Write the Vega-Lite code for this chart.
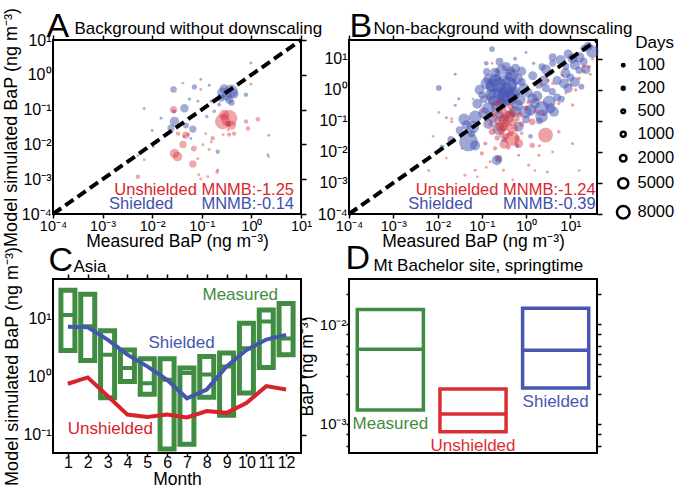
{
  "$schema": "https://vega.github.io/schema/vega-lite/v6.json",
  "padding": {"left": 1, "top": 6, "right": 0, "bottom": 0},
  "config": {
    "font": "Liberation Sans",
    "view": {"stroke": "black", "strokeWidth": 2},
    "axis": {"domain": false, "grid": false, "tickColor": "black", "tickWidth": 1.5, "tickSize": 5, "labelFont": "Liberation Sans", "labelFontSize": 15, "labelColor": "black", "titleFont": "Liberation Sans", "titleFontSize": 17.5, "titleFontWeight": "normal", "titleColor": "black", "labelPadding": 2, "labelFlush": false, "labelOverlap": false},
    "text": {"font": "Liberation Sans"}
  },
  "datasets": {
    "A": [
      {"series": "Shielded", "obs": 0.0269, "mod": 0.38, "days": 2000},
      {"series": "Shielded", "obs": 0.0708, "mod": 0.447, "days": 1200},
      {"series": "Shielded", "obs": 0.0447, "mod": 0.11, "days": 3500},
      {"series": "Shielded", "obs": 0.263, "mod": 0.302, "days": 6000},
      {"series": "Shielded", "obs": 0.389, "mod": 0.339, "days": 9000},
      {"series": "Shielded", "obs": 0.245, "mod": 0.214, "days": 2500},
      {"series": "Shielded", "obs": 0.0282, "mod": 0.0457, "days": 4500},
      {"series": "Shielded", "obs": 0.024, "mod": 0.0295, "days": 2500},
      {"series": "Shielded", "obs": 0.0661, "mod": 0.0275, "days": 2500},
      {"series": "Shielded", "obs": 0.977, "mod": 2.19, "days": 250},
      {"series": "Shielded", "obs": 0.776, "mod": 0.269, "days": 800},
      {"series": "Shielded", "obs": 0.0955, "mod": 0.741, "days": 200},
      {"series": "Shielded", "obs": 0.0832, "mod": 0.174, "days": 200},
      {"series": "Shielded", "obs": 0.0151, "mod": 0.0562, "days": 250},
      {"series": "Shielded", "obs": 0.209, "mod": 0.00617, "days": 800},
      {"series": "Shielded", "obs": 2.24, "mod": 0.0182, "days": 200},
      {"series": "Shielded", "obs": 0.0437, "mod": 0.017, "days": 250},
      {"series": "Shielded", "obs": 0.00692, "mod": 0.107, "days": 200},
      {"series": "Shielded", "obs": 0.0105, "mod": 0.00871, "days": 200},
      {"series": "Shielded", "obs": 0.00513, "mod": 0.00479, "days": 150},
      {"series": "Shielded", "obs": 0.0479, "mod": 0.0347, "days": 1500},
      {"series": "Shielded", "obs": 0.0275, "mod": 0.0891, "days": 800},
      {"series": "Shielded", "obs": 0.155, "mod": 0.174, "days": 400},
      {"series": "Shielded", "obs": 0.178, "mod": 0.0891, "days": 400},
      {"series": "Shielded", "obs": 0.339, "mod": 0.0398, "days": 1500},
      {"series": "Shielded", "obs": 2.14, "mod": 0.00501, "days": 150},
      {"series": "Shielded", "obs": 0.0603, "mod": 0.0148, "days": 200},
      {"series": "Shielded", "obs": 0.316, "mod": 0.251, "days": 5000},
      {"series": "Shielded", "obs": 0.355, "mod": 0.191, "days": 3000},
      {"series": "Shielded", "obs": 0.282, "mod": 0.398, "days": 4000},
      {"series": "Shielded", "obs": 0.398, "mod": 0.158, "days": 1800},
      {"series": "Shielded", "obs": 0.224, "mod": 0.141, "days": 600},
      {"series": "Shielded", "obs": 0.126, "mod": 0.0631, "days": 400},
      {"series": "Shielded", "obs": 0.02, "mod": 0.02, "days": 600},
      {"series": "Shielded", "obs": 0.01, "mod": 0.0251, "days": 200},
      {"series": "Shielded", "obs": 0.141, "mod": 0.501, "days": 200},
      {"series": "Shielded", "obs": 0.0562, "mod": 0.2, "days": 400},
      {"series": "Shielded", "obs": 0.447, "mod": 0.282, "days": 4000},
      {"series": "Unshielded", "obs": 0.0269, "mod": 0.1, "days": 2500},
      {"series": "Unshielded", "obs": 0.0479, "mod": 0.0186, "days": 2500},
      {"series": "Unshielded", "obs": 0.263, "mod": 0.0457, "days": 12000},
      {"series": "Unshielded", "obs": 0.355, "mod": 0.0562, "days": 14000},
      {"series": "Unshielded", "obs": 0.0282, "mod": 0.0055, "days": 4500},
      {"series": "Unshielded", "obs": 0.0324, "mod": 0.00447, "days": 4500},
      {"series": "Unshielded", "obs": 0.0661, "mod": 0.00275, "days": 2500},
      {"series": "Unshielded", "obs": 0.105, "mod": 0.00977, "days": 250},
      {"series": "Unshielded", "obs": 0.166, "mod": 0.0151, "days": 800},
      {"series": "Unshielded", "obs": 0.141, "mod": 0.00708, "days": 250},
      {"series": "Unshielded", "obs": 0.355, "mod": 0.0191, "days": 800},
      {"series": "Unshielded", "obs": 0.776, "mod": 0.0457, "days": 800},
      {"series": "Unshielded", "obs": 0.977, "mod": 0.537, "days": 250},
      {"series": "Unshielded", "obs": 0.0955, "mod": 0.38, "days": 250},
      {"series": "Unshielded", "obs": 0.209, "mod": 0.00182, "days": 250},
      {"series": "Unshielded", "obs": 0.0871, "mod": 0.00135, "days": 250},
      {"series": "Unshielded", "obs": 2.24, "mod": 0.00447, "days": 200},
      {"series": "Unshielded", "obs": 0.00513, "mod": 0.00117, "days": 800},
      {"series": "Unshielded", "obs": 0.0417, "mod": 0.01, "days": 2500},
      {"series": "Unshielded", "obs": 0.0955, "mod": 0.00102, "days": 250},
      {"series": "Unshielded", "obs": 0.132, "mod": 0.00117, "days": 250},
      {"series": "Unshielded", "obs": 0.204, "mod": 0.00162, "days": 500},
      {"series": "Unshielded", "obs": 0.0832, "mod": 0.00389, "days": 250},
      {"series": "Unshielded", "obs": 0.0692, "mod": 0.00759, "days": 1500},
      {"series": "Unshielded", "obs": 0.0331, "mod": 0.0204, "days": 800},
      {"series": "Unshielded", "obs": 0.0525, "mod": 0.0191, "days": 400},
      {"series": "Unshielded", "obs": 0.12, "mod": 0.0204, "days": 250},
      {"series": "Unshielded", "obs": 0.155, "mod": 0.0117, "days": 250},
      {"series": "Unshielded", "obs": 0.269, "mod": 0.0191, "days": 250},
      {"series": "Unshielded", "obs": 0.339, "mod": 0.0263, "days": 250},
      {"series": "Unshielded", "obs": 0.447, "mod": 0.0204, "days": 800},
      {"series": "Unshielded", "obs": 0.851, "mod": 0.0288, "days": 800},
      {"series": "Unshielded", "obs": 1.35, "mod": 0.0525, "days": 800},
      {"series": "Unshielded", "obs": 0.0417, "mod": 0.575, "days": 200},
      {"series": "Unshielded", "obs": 0.00692, "mod": 0.00363, "days": 200},
      {"series": "Unshielded", "obs": 0.282, "mod": 0.0708, "days": 5000},
      {"series": "Unshielded", "obs": 0.398, "mod": 0.0355, "days": 4000}
    ],
    "B": [
      {"series": "Shielded", "obs": 0.17, "mod": 20.4, "days": 1500},
      {"series": "Shielded", "obs": 0.0107, "mod": 1.148, "days": 1500},
      {"series": "Shielded", "obs": 0.129, "mod": 3.8, "days": 2500},
      {"series": "Shielded", "obs": 0.219, "mod": 3.98, "days": 900},
      {"series": "Shielded", "obs": 0.479, "mod": 2.95, "days": 8000},
      {"series": "Shielded", "obs": 0.575, "mod": 4.9, "days": 4000},
      {"series": "Shielded", "obs": 1.479, "mod": 7.08, "days": 400},
      {"series": "Shielded", "obs": 2.29, "mod": 5.5, "days": 2500},
      {"series": "Shielded", "obs": 6.03, "mod": 9.12, "days": 5000},
      {"series": "Shielded", "obs": 11.2, "mod": 10.2, "days": 5000},
      {"series": "Shielded", "obs": 20.4, "mod": 21.4, "days": 2500},
      {"series": "Shielded", "obs": 31.6, "mod": 17.0, "days": 8000},
      {"series": "Shielded", "obs": 7.76, "mod": 3.39, "days": 5000},
      {"series": "Shielded", "obs": 15.8, "mod": 4.27, "days": 2500},
      {"series": "Shielded", "obs": 7.24, "mod": 1.585, "days": 5000},
      {"series": "Shielded", "obs": 3.31, "mod": 0.407, "days": 8000},
      {"series": "Shielded", "obs": 2.29, "mod": 0.251, "days": 11000},
      {"series": "Shielded", "obs": 4.27, "mod": 0.195, "days": 5000},
      {"series": "Shielded", "obs": 0.24, "mod": 1.413, "days": 11000},
      {"series": "Shielded", "obs": 0.2, "mod": 0.589, "days": 14000},
      {"series": "Shielded", "obs": 0.407, "mod": 0.525, "days": 11000},
      {"series": "Shielded", "obs": 0.141, "mod": 0.251, "days": 8000},
      {"series": "Shielded", "obs": 0.0708, "mod": 0.135, "days": 8000},
      {"series": "Shielded", "obs": 0.0457, "mod": 0.0724, "days": 5000},
      {"series": "Shielded", "obs": 0.1, "mod": 0.676, "days": 2500},
      {"series": "Shielded", "obs": 0.575, "mod": 0.871, "days": 5000},
      {"series": "Shielded", "obs": 0.977, "mod": 0.195, "days": 8000},
      {"series": "Shielded", "obs": 1.38, "mod": 0.525, "days": 5000},
      {"series": "Shielded", "obs": 1.95, "mod": 1.413, "days": 2500},
      {"series": "Shielded", "obs": 3.89, "mod": 0.871, "days": 2500},
      {"series": "Shielded", "obs": 0.24, "mod": 0.0562, "days": 8000},
      {"series": "Shielded", "obs": 0.676, "mod": 0.0646, "days": 5000},
      {"series": "Shielded", "obs": 0.0589, "mod": 0.0389, "days": 2500},
      {"series": "Shielded", "obs": 0.316, "mod": 1.995, "days": 6500},
      {"series": "Shielded", "obs": 0.355, "mod": 1.0, "days": 9500},
      {"series": "Shielded", "obs": 0.251, "mod": 0.794, "days": 8000},
      {"series": "Shielded", "obs": 0.501, "mod": 1.585, "days": 5000},
      {"series": "Shielded", "obs": 0.158, "mod": 1.259, "days": 5000},
      {"series": "Shielded", "obs": 0.282, "mod": 0.355, "days": 6500},
      {"series": "Shielded", "obs": 0.631, "mod": 0.316, "days": 6500},
      {"series": "Shielded", "obs": 0.178, "mod": 0.447, "days": 5000},
      {"series": "Shielded", "obs": 0.398, "mod": 2.818, "days": 3000},
      {"series": "Shielded", "obs": 0.794, "mod": 1.778, "days": 3000},
      {"series": "Shielded", "obs": 0.112, "mod": 0.501, "days": 3000},
      {"series": "Shielded", "obs": 1.122, "mod": 0.794, "days": 4000},
      {"series": "Shielded", "obs": 1.585, "mod": 0.355, "days": 5000},
      {"series": "Shielded", "obs": 2.818, "mod": 1.122, "days": 3000},
      {"series": "Shielded", "obs": 5.01, "mod": 1.995, "days": 4000},
      {"series": "Shielded", "obs": 10.0, "mod": 2.512, "days": 3000},
      {"series": "Shielded", "obs": 12.6, "mod": 6.31, "days": 5000},
      {"series": "Shielded", "obs": 19.95, "mod": 7.94, "days": 3000},
      {"series": "Shielded", "obs": 3.98, "mod": 7.08, "days": 2200},
      {"series": "Shielded", "obs": 7.94, "mod": 5.62, "days": 2200},
      {"series": "Shielded", "obs": 25.1, "mod": 25.1, "days": 4000},
      {"series": "Shielded", "obs": 0.224, "mod": 2.512, "days": 3000},
      {"series": "Shielded", "obs": 0.447, "mod": 0.158, "days": 4000},
      {"series": "Shielded", "obs": 1.0, "mod": 0.112, "days": 3000},
      {"series": "Shielded", "obs": 1.995, "mod": 0.1, "days": 2200},
      {"series": "Shielded", "obs": 0.0501, "mod": 0.0209, "days": 18000},
      {"series": "Shielded", "obs": 0.0708, "mod": 0.0162, "days": 5000},
      {"series": "Shielded", "obs": 0.219, "mod": 0.00537, "days": 5000},
      {"series": "Shielded", "obs": 0.24, "mod": 0.00603, "days": 2500},
      {"series": "Shielded", "obs": 0.0316, "mod": 0.0501, "days": 3000},
      {"series": "Shielded", "obs": 0.02, "mod": 0.0251, "days": 2200},
      {"series": "Shielded", "obs": 0.0126, "mod": 0.0141, "days": 1200},
      {"series": "Shielded", "obs": 0.126, "mod": 7.08, "days": 900},
      {"series": "Shielded", "obs": 0.562, "mod": 10.0, "days": 600},
      {"series": "Shielded", "obs": 3.55, "mod": 3.55, "days": 1200},
      {"series": "Shielded", "obs": 17.8, "mod": 1.259, "days": 1500},
      {"series": "Shielded", "obs": 6.31, "mod": 0.501, "days": 2200},
      {"series": "Shielded", "obs": 0.0251, "mod": 0.316, "days": 300},
      {"series": "Shielded", "obs": 0.00631, "mod": 0.00251, "days": 150},
      {"series": "Shielded", "obs": 0.316, "mod": 0.0251, "days": 1200},
      {"series": "Shielded", "obs": 1.259, "mod": 0.0316, "days": 900},
      {"series": "Shielded", "obs": 0.631, "mod": 0.0158, "days": 700},
      {"series": "Shielded", "obs": 0.0251, "mod": 3.16, "days": 200},
      {"series": "Shielded", "obs": 1.0, "mod": 15.8, "days": 200},
      {"series": "Shielded", "obs": 0.0158, "mod": 0.126, "days": 200},
      {"series": "Shielded", "obs": 0.0302, "mod": 0.513, "days": 300},
      {"series": "Shielded", "obs": 0.2, "mod": 2.0, "days": 8000},
      {"series": "Shielded", "obs": 0.355, "mod": 0.708, "days": 15000},
      {"series": "Shielded", "obs": 0.141, "mod": 2.24, "days": 5000},
      {"series": "Shielded", "obs": 0.126, "mod": 1.585, "days": 6500},
      {"series": "Shielded", "obs": 0.2, "mod": 3.548, "days": 5000},
      {"series": "Shielded", "obs": 0.282, "mod": 4.467, "days": 5500},
      {"series": "Shielded", "obs": 0.447, "mod": 3.98, "days": 4000},
      {"series": "Shielded", "obs": 0.631, "mod": 2.239, "days": 6500},
      {"series": "Shielded", "obs": 0.891, "mod": 1.122, "days": 5500},
      {"series": "Shielded", "obs": 0.708, "mod": 0.501, "days": 8000},
      {"series": "Shielded", "obs": 0.501, "mod": 0.708, "days": 9500},
      {"series": "Shielded", "obs": 0.316, "mod": 0.501, "days": 11000},
      {"series": "Shielded", "obs": 0.224, "mod": 0.282, "days": 8000},
      {"series": "Shielded", "obs": 0.158, "mod": 0.708, "days": 6500},
      {"series": "Shielded", "obs": 0.0891, "mod": 1.0, "days": 5000},
      {"series": "Shielded", "obs": 0.0794, "mod": 0.355, "days": 5000},
      {"series": "Shielded", "obs": 0.112, "mod": 0.178, "days": 6500},
      {"series": "Shielded", "obs": 0.178, "mod": 0.126, "days": 5000},
      {"series": "Shielded", "obs": 0.316, "mod": 0.112, "days": 5000},
      {"series": "Shielded", "obs": 0.562, "mod": 0.2, "days": 6500},
      {"series": "Shielded", "obs": 1.259, "mod": 0.224, "days": 6500},
      {"series": "Shielded", "obs": 1.778, "mod": 0.631, "days": 5500},
      {"series": "Shielded", "obs": 2.512, "mod": 1.995, "days": 5000},
      {"series": "Shielded", "obs": 1.413, "mod": 2.818, "days": 4000},
      {"series": "Shielded", "obs": 0.251, "mod": 7.94, "days": 3000},
      {"series": "Shielded", "obs": 0.355, "mod": 5.62, "days": 4000},
      {"series": "Shielded", "obs": 2.239, "mod": 0.141, "days": 8000},
      {"series": "Shielded", "obs": 3.548, "mod": 0.251, "days": 5000},
      {"series": "Shielded", "obs": 5.01, "mod": 0.562, "days": 3000},
      {"series": "Shielded", "obs": 8.91, "mod": 1.122, "days": 4000},
      {"series": "Shielded", "obs": 12.6, "mod": 1.778, "days": 5000},
      {"series": "Shielded", "obs": 15.8, "mod": 11.2, "days": 5500},
      {"series": "Shielded", "obs": 8.91, "mod": 14.1, "days": 4000},
      {"series": "Shielded", "obs": 3.98, "mod": 11.2, "days": 3000},
      {"series": "Shielded", "obs": 22.4, "mod": 4.47, "days": 4000},
      {"series": "Shielded", "obs": 0.0398, "mod": 0.112, "days": 6500},
      {"series": "Shielded", "obs": 0.0631, "mod": 0.0631, "days": 8000},
      {"series": "Shielded", "obs": 0.141, "mod": 0.0794, "days": 5000},
      {"series": "Shielded", "obs": 0.398, "mod": 1.413, "days": 14000},
      {"series": "Shielded", "obs": 0.178, "mod": 1.413, "days": 9500},
      {"series": "Shielded", "obs": 0.251, "mod": 0.158, "days": 3000},
      {"series": "Shielded", "obs": 2.818, "mod": 4.467, "days": 5000},
      {"series": "Shielded", "obs": 0.794, "mod": 3.98, "days": 4000},
      {"series": "Unshielded", "obs": 0.407, "mod": 0.135, "days": 7000},
      {"series": "Unshielded", "obs": 0.309, "mod": 0.0646, "days": 4000},
      {"series": "Unshielded", "obs": 0.479, "mod": 0.0269, "days": 11000},
      {"series": "Unshielded", "obs": 0.676, "mod": 0.0186, "days": 4000},
      {"series": "Unshielded", "obs": 2.754, "mod": 0.0347, "days": 11000},
      {"series": "Unshielded", "obs": 1.38, "mod": 0.0933, "days": 2000},
      {"series": "Unshielded", "obs": 0.17, "mod": 0.0447, "days": 2000},
      {"series": "Unshielded", "obs": 0.12, "mod": 0.0186, "days": 700},
      {"series": "Unshielded", "obs": 0.2, "mod": 0.0129, "days": 700},
      {"series": "Unshielded", "obs": 0.1, "mod": 0.00891, "days": 700},
      {"series": "Unshielded", "obs": 0.155, "mod": 0.00479, "days": 250},
      {"series": "Unshielded", "obs": 0.24, "mod": 0.00603, "days": 700},
      {"series": "Unshielded", "obs": 0.309, "mod": 0.00257, "days": 250},
      {"series": "Unshielded", "obs": 0.676, "mod": 0.00776, "days": 250},
      {"series": "Unshielded", "obs": 1.38, "mod": 0.0162, "days": 1200},
      {"series": "Unshielded", "obs": 1.95, "mod": 0.00776, "days": 300},
      {"series": "Unshielded", "obs": 3.02, "mod": 0.00224, "days": 250},
      {"series": "Unshielded", "obs": 5.495, "mod": 0.0447, "days": 400},
      {"series": "Unshielded", "obs": 11.22, "mod": 0.0186, "days": 300},
      {"series": "Unshielded", "obs": 0.0417, "mod": 0.00178, "days": 250},
      {"series": "Unshielded", "obs": 0.0708, "mod": 0.00257, "days": 250},
      {"series": "Unshielded", "obs": 1.148, "mod": 0.00372, "days": 250},
      {"series": "Unshielded", "obs": 0.0209, "mod": 0.0933, "days": 250},
      {"series": "Unshielded", "obs": 0.282, "mod": 0.117, "days": 2500},
      {"series": "Unshielded", "obs": 0.251, "mod": 0.2, "days": 2000},
      {"series": "Unshielded", "obs": 0.355, "mod": 0.0891, "days": 3500},
      {"series": "Unshielded", "obs": 0.501, "mod": 0.178, "days": 2000},
      {"series": "Unshielded", "obs": 0.224, "mod": 0.1, "days": 2500},
      {"series": "Unshielded", "obs": 0.316, "mod": 0.251, "days": 1200},
      {"series": "Unshielded", "obs": 0.562, "mod": 0.0562, "days": 2000},
      {"series": "Unshielded", "obs": 0.2, "mod": 0.316, "days": 1000},
      {"series": "Unshielded", "obs": 0.447, "mod": 0.0398, "days": 1500},
      {"series": "Unshielded", "obs": 0.282, "mod": 0.0355, "days": 1200},
      {"series": "Unshielded", "obs": 0.158, "mod": 0.0794, "days": 1000},
      {"series": "Unshielded", "obs": 0.631, "mod": 0.112, "days": 1000},
      {"series": "Unshielded", "obs": 1.0, "mod": 0.251, "days": 700},
      {"series": "Unshielded", "obs": 6.61, "mod": 2.95, "days": 250},
      {"series": "Unshielded", "obs": 26.3, "mod": 5.5, "days": 600},
      {"series": "Unshielded", "obs": 15.8, "mod": 2.344, "days": 400},
      {"series": "Unshielded", "obs": 10.2, "mod": 1.413, "days": 400},
      {"series": "Unshielded", "obs": 13.2, "mod": 0.977, "days": 400},
      {"series": "Unshielded", "obs": 2.29, "mod": 1.413, "days": 400},
      {"series": "Unshielded", "obs": 3.16, "mod": 1.995, "days": 300},
      {"series": "Unshielded", "obs": 0.17, "mod": 7.08, "days": 200},
      {"series": "Unshielded", "obs": 0.0107, "mod": 0.186, "days": 200},
      {"series": "Unshielded", "obs": 0.0209, "mod": 0.117, "days": 200},
      {"series": "Unshielded", "obs": 0.1, "mod": 0.195, "days": 400},
      {"series": "Unshielded", "obs": 5.495, "mod": 0.363, "days": 400},
      {"series": "Unshielded", "obs": 11.2, "mod": 0.324, "days": 400},
      {"series": "Unshielded", "obs": 19.95, "mod": 3.98, "days": 300},
      {"series": "Unshielded", "obs": 31.6, "mod": 10.0, "days": 300},
      {"series": "Unshielded", "obs": 7.94, "mod": 0.794, "days": 300},
      {"series": "Unshielded", "obs": 3.98, "mod": 1.585, "days": 300},
      {"series": "Unshielded", "obs": 0.126, "mod": 0.631, "days": 300},
      {"series": "Unshielded", "obs": 0.0631, "mod": 0.501, "days": 200},
      {"series": "Unshielded", "obs": 1.778, "mod": 0.501, "days": 500},
      {"series": "Unshielded", "obs": 2.512, "mod": 0.158, "days": 400},
      {"series": "Unshielded", "obs": 0.0355, "mod": 0.0126, "days": 150},
      {"series": "Unshielded", "obs": 0.0794, "mod": 0.00158, "days": 150},
      {"series": "Unshielded", "obs": 0.501, "mod": 0.00126, "days": 150},
      {"series": "Unshielded", "obs": 1.585, "mod": 0.00251, "days": 150},
      {"series": "Unshielded", "obs": 0.126, "mod": 0.00316, "days": 200},
      {"series": "Unshielded", "obs": 3.98, "mod": 0.01, "days": 200},
      {"series": "Unshielded", "obs": 15.8, "mod": 0.00251, "days": 150},
      {"series": "Unshielded", "obs": 0.0158, "mod": 0.00631, "days": 150},
      {"series": "Unshielded", "obs": 0.00794, "mod": 0.0316, "days": 150},
      {"series": "Unshielded", "obs": 1.995, "mod": 0.0158, "days": 300},
      {"series": "Unshielded", "obs": 0.794, "mod": 0.0398, "days": 400},
      {"series": "Unshielded", "obs": 0.355, "mod": 0.158, "days": 4000},
      {"series": "Unshielded", "obs": 0.251, "mod": 0.0631, "days": 3500},
      {"series": "Unshielded", "obs": 19.95, "mod": 5.62, "days": 400},
      {"series": "Unshielded", "obs": 28.2, "mod": 3.16, "days": 300},
      {"series": "Unshielded", "obs": 0.398, "mod": 0.0631, "days": 3500},
      {"series": "Unshielded", "obs": 0.282, "mod": 0.0501, "days": 2500},
      {"series": "Unshielded", "obs": 0.501, "mod": 0.0891, "days": 2500},
      {"series": "Unshielded", "obs": 0.355, "mod": 0.0316, "days": 2000},
      {"series": "Unshielded", "obs": 0.631, "mod": 0.0282, "days": 1200},
      {"series": "Unshielded", "obs": 0.224, "mod": 0.0282, "days": 1200},
      {"series": "Unshielded", "obs": 0.178, "mod": 0.158, "days": 2000},
      {"series": "Unshielded", "obs": 0.447, "mod": 0.282, "days": 2000},
      {"series": "Unshielded", "obs": 0.708, "mod": 0.158, "days": 1500},
      {"series": "Unshielded", "obs": 0.251, "mod": 0.398, "days": 1200},
      {"series": "Unshielded", "obs": 0.126, "mod": 0.112, "days": 1000},
      {"series": "Unshielded", "obs": 0.398, "mod": 0.0141, "days": 1000},
      {"series": "Unshielded", "obs": 0.794, "mod": 0.0794, "days": 1200},
      {"series": "Unshielded", "obs": 0.316, "mod": 0.0178, "days": 4000},
      {"series": "Unshielded", "obs": 1.122, "mod": 0.398, "days": 700},
      {"series": "Unshielded", "obs": 1.585, "mod": 0.2, "days": 700},
      {"series": "Unshielded", "obs": 0.501, "mod": 0.501, "days": 700}
    ],
    "monthly": [
      {"month": 1, "low": 2.82, "median": 11.5, "high": 30.9, "shielded": 7.24, "unshielded": 0.759},
      {"month": 2, "low": 1.91, "median": 7.4, "high": 26.3, "shielded": 7.08, "unshielded": 0.977},
      {"month": 3, "low": 0.437, "median": 2.4, "high": 6.17, "shielded": 4.37, "unshielded": 0.468},
      {"month": 4, "low": 0.832, "median": 1.41, "high": 2.88, "shielded": 2.4, "unshielded": 0.224},
      {"month": 5, "low": 0.501, "median": 0.776, "high": 2.04, "shielded": 1.51, "unshielded": 0.204},
      {"month": 6, "low": 0.0575, "median": 0.891, "high": 2.04, "shielded": 0.891, "unshielded": 0.224},
      {"month": 7, "low": 0.0692, "median": 1.16, "high": 1.41, "shielded": 0.427, "unshielded": 0.2},
      {"month": 8, "low": 0.447, "median": 1.1, "high": 2.24, "shielded": 0.603, "unshielded": 0.257},
      {"month": 9, "low": 0.219, "median": 1.51, "high": 2.57, "shielded": 1.51, "unshielded": 0.24},
      {"month": 10, "low": 0.525, "median": 3.09, "high": 8.32, "shielded": 2.88, "unshielded": 0.355},
      {"month": 11, "low": 1.45, "median": 8.91, "high": 14.1, "shielded": 4.37, "unshielded": 0.692},
      {"month": 12, "low": 2.4, "median": 4.57, "high": 18.2, "shielded": 5.25, "unshielded": 0.603}
    ],
    "bachelor": [
      {"series": "Measured", "low": 0.00138, "median": 0.00562, "high": 0.0141},
      {"series": "Unshielded", "low": 0.000832, "median": 0.00126, "high": 0.00224},
      {"series": "Shielded", "low": 0.00229, "median": 0.0055, "high": 0.0145}
    ]
  },
  "concat": [
    {
      "width": 248, "height": 174,
      "layer": [
        {
          "data": {"name": "A"},
          "transform": [{"filter": "datum.series == 'Shielded'"}],
          "mark": {"type": "circle", "opacity": 0.5},
          "encoding": {
            "x": {"field": "obs", "type": "quantitative", "scale": {"type": "log", "domain": [0.0001, 10], "nice": false},
              "axis": {"orient": "bottom", "tickSize": 4, "labelPadding": 1, "labelFontSize": 14.5, "values": [0.0001, 0.001, 0.01, 0.1, 1, 10], "labelExpr": "'10' + replace(replace(replace(replace(replace(replace('' + round(log(datum.value)/LN10), '-', '⁻'), '0', '⁰'), '1', '¹'), '2', '²'), '3', '³'), '4', '⁴')", "title": "Measured BaP (ng m⁻³)", "titlePadding": 0}},
            "y": {"field": "mod", "type": "quantitative", "scale": {"type": "log", "domain": [0.0001, 10], "nice": false},
              "axis": {"orient": "left", "ticks": false, "labelFontSize": 16, "values": [0.0001, 0.001, 0.01, 0.1, 1, 10], "labelExpr": "'10' + replace(replace(replace(replace(replace(replace('' + round(log(datum.value)/LN10), '-', '⁻'), '0', '⁰'), '1', '¹'), '2', '²'), '3', '³'), '4', '⁴')", "title": "Model simulated BaP (ng m⁻³)", "titleFontSize": 18, "titlePadding": 1}},
            "color": {"field": "series", "type": "nominal", "scale": {"domain": ["Measured", "Unshielded", "Shielded"], "range": ["#3f8c42", "#da2e35", "#4757b2"]}, "legend": null},
            "size": {"field": "days", "type": "quantitative", "scale": {"type": "linear", "domain": [100, 8000], "range": [6, 160], "zero": false},
              "legend": {"title": "Days", "values": [100, 200, 500, 1000, 2000, 5000, 8000], "format": "d", "orient": "none", "legendX": 562, "legendY": -5, "titleFontSize": 17, "titleFontWeight": "normal", "titleAnchor": "end", "labelFontSize": 16.5, "labelOffset": 6, "rowPadding": 6, "symbolType": "circle", "symbolFillColor": "white", "symbolStrokeColor": "black", "symbolStrokeWidth": 2.5, "symbolOpacity": 1}}
          }
        },
        {
          "data": {"name": "A"},
          "transform": [{"filter": "datum.series == 'Unshielded'"}],
          "mark": {"type": "circle", "opacity": 0.42},
          "encoding": {
            "x": {"field": "obs", "type": "quantitative", "scale": {"type": "log"},
              "axis": {"orient": "top", "values": [0.0001, 0.001, 0.01, 0.1, 1, 10], "labels": false, "title": "Background without downscaling", "titleFontSize": 17, "titleX": 21, "titleY": -7, "titleAlign": "left", "titleAnchor": "start", "titleBaseline": "alphabetic"}},
            "y": {"field": "mod", "type": "quantitative", "scale": {"type": "log"},
              "axis": {"orient": "right", "values": [0.0001, 0.001, 0.01, 0.1, 1, 10], "labels": false, "title": null}},
            "color": {"field": "series", "type": "nominal", "legend": null},
            "size": {"field": "days", "type": "quantitative", "scale": {"type": "linear", "domain": [100, 8000], "range": [6, 160], "zero": false},
              "legend": {"title": "Days", "values": [100, 200, 500, 1000, 2000, 5000, 8000], "format": "d", "orient": "none", "legendX": 562, "legendY": -5, "titleFontSize": 17, "titleFontWeight": "normal", "titleAnchor": "end", "labelFontSize": 16.5, "labelOffset": 6, "rowPadding": 6, "symbolType": "circle", "symbolFillColor": "white", "symbolStrokeColor": "black", "symbolStrokeWidth": 2.5, "symbolOpacity": 1}}
          }
        },
        {
          "data": {"values": [{"v": 0.0001}, {"v": 10}]},
          "mark": {"type": "line", "color": "black", "strokeWidth": 4, "strokeDash": [10, 5]},
          "encoding": {
            "x": {"field": "v", "type": "quantitative", "scale": {"type": "log"},
              "axis": {"orient": "top", "ticks": false, "labels": false, "title": "A", "titleFontSize": 34, "titleX": -7, "titleY": -4, "titleAlign": "left", "titleBaseline": "alphabetic"}},
            "y": {"field": "v", "type": "quantitative", "scale": {"type": "log"}, "axis": null}
          }
        },
        {
          "data": {"values": [{"label": "Unshielded MNMB:-1.25"}]},
          "mark": {"type": "text", "color": "#d9262c", "fontSize": 16.5, "align": "right", "baseline": "middle"},
          "encoding": {
            "x": {"datum": 7.24, "type": "quantitative", "scale": {"type": "log"}, "axis": null},
            "y": {"datum": 0.00049, "type": "quantitative", "scale": {"type": "log"}, "axis": null},
            "text": {"field": "label"}
          }
        },
        {
          "data": {"values": [{"label": "MNMB:-0.14"}]},
          "mark": {"type": "text", "color": "#3e4fae", "fontSize": 16.5, "align": "right", "baseline": "middle"},
          "encoding": {
            "x": {"datum": 7.24, "type": "quantitative", "scale": {"type": "log"}, "axis": null},
            "y": {"datum": 0.000195, "type": "quantitative", "scale": {"type": "log"}, "axis": null},
            "text": {"field": "label"}
          }
        },
        {
          "data": {"values": [{"label": "Shielded"}]},
          "mark": {"type": "text", "color": "#3e4fae", "fontSize": 16.5, "align": "left", "baseline": "middle"},
          "encoding": {
            "x": {"datum": 0.00135, "type": "quantitative", "scale": {"type": "log"}, "axis": null},
            "y": {"datum": 0.000195, "type": "quantitative", "scale": {"type": "log"}, "axis": null},
            "text": {"field": "label"}
          }
        }
      ]
    },
    {
      "width": 248, "height": 174,
      "layer": [
        {
          "data": {"name": "B"},
          "transform": [{"filter": "datum.series == 'Shielded'"}],
          "mark": {"type": "circle", "opacity": 0.52},
          "encoding": {
            "x": {"field": "obs", "type": "quantitative", "scale": {"type": "log", "domain": [0.0001, 40], "nice": false},
              "axis": {"orient": "bottom", "tickSize": 4, "labelPadding": 1, "labelFontSize": 14.5, "values": [0.0001, 0.001, 0.01, 0.1, 1, 10], "labelExpr": "'10' + replace(replace(replace(replace(replace(replace('' + round(log(datum.value)/LN10), '-', '⁻'), '0', '⁰'), '1', '¹'), '2', '²'), '3', '³'), '4', '⁴')", "title": "Measured BaP (ng m⁻³)", "titlePadding": 0}},
            "y": {"field": "mod", "type": "quantitative", "scale": {"type": "log", "domain": [0.0001, 40], "nice": false},
              "axis": {"orient": "left", "ticks": false, "labelFontSize": 16, "values": [0.0001, 0.001, 0.01, 0.1, 1, 10], "labelExpr": "'10' + replace(replace(replace(replace(replace(replace('' + round(log(datum.value)/LN10), '-', '⁻'), '0', '⁰'), '1', '¹'), '2', '²'), '3', '³'), '4', '⁴')", "title": null}},
            "color": {"field": "series", "type": "nominal", "legend": null},
            "size": {"field": "days", "type": "quantitative", "scale": {"type": "linear", "domain": [100, 8000], "range": [6, 160], "zero": false},
              "legend": {"title": "Days", "values": [100, 200, 500, 1000, 2000, 5000, 8000], "format": "d", "orient": "none", "legendX": 562, "legendY": -5, "titleFontSize": 17, "titleFontWeight": "normal", "titleAnchor": "end", "labelFontSize": 16.5, "labelOffset": 6, "rowPadding": 6, "symbolType": "circle", "symbolFillColor": "white", "symbolStrokeColor": "black", "symbolStrokeWidth": 2.5, "symbolOpacity": 1}}
          }
        },
        {
          "data": {"name": "B"},
          "transform": [{"filter": "datum.series == 'Unshielded'"}],
          "mark": {"type": "circle", "opacity": 0.45},
          "encoding": {
            "x": {"field": "obs", "type": "quantitative", "scale": {"type": "log"},
              "axis": {"orient": "top", "values": [0.0001, 0.001, 0.01, 0.1, 1, 10], "labels": false, "title": "Non-background with downscaling", "titleFontSize": 17, "titleX": 24, "titleY": -7, "titleAlign": "left", "titleAnchor": "start", "titleBaseline": "alphabetic"}},
            "y": {"field": "mod", "type": "quantitative", "scale": {"type": "log"},
              "axis": {"orient": "right", "values": [0.0001, 0.001, 0.01, 0.1, 1, 10], "labels": false, "title": null}},
            "color": {"field": "series", "type": "nominal", "legend": null},
            "size": {"field": "days", "type": "quantitative", "scale": {"type": "linear", "domain": [100, 8000], "range": [6, 160], "zero": false},
              "legend": {"title": "Days", "values": [100, 200, 500, 1000, 2000, 5000, 8000], "format": "d", "orient": "none", "legendX": 562, "legendY": -5, "titleFontSize": 17, "titleFontWeight": "normal", "titleAnchor": "end", "labelFontSize": 16.5, "labelOffset": 6, "rowPadding": 6, "symbolType": "circle", "symbolFillColor": "white", "symbolStrokeColor": "black", "symbolStrokeWidth": 2.5, "symbolOpacity": 1}}
          }
        },
        {
          "data": {"values": [{"v": 0.0001}, {"v": 40}]},
          "mark": {"type": "line", "color": "black", "strokeWidth": 4, "strokeDash": [10, 5]},
          "encoding": {
            "x": {"field": "v", "type": "quantitative", "scale": {"type": "log"},
              "axis": {"orient": "top", "ticks": false, "labels": false, "title": "B", "titleFontSize": 34, "titleX": 0, "titleY": -4, "titleAlign": "left", "titleBaseline": "alphabetic"}},
            "y": {"field": "v", "type": "quantitative", "scale": {"type": "log"}, "axis": null}
          }
        },
        {
          "data": {"values": [{"label": "Unshielded MNMB:-1.24"}]},
          "mark": {"type": "text", "color": "#d9262c", "fontSize": 16.5, "align": "right", "baseline": "middle"},
          "encoding": {
            "x": {"datum": 37.2, "type": "quantitative", "scale": {"type": "log"}, "axis": null},
            "y": {"datum": 0.000589, "type": "quantitative", "scale": {"type": "log"}, "axis": null},
            "text": {"field": "label"}
          }
        },
        {
          "data": {"values": [{"label": "MNMB:-0.39"}]},
          "mark": {"type": "text", "color": "#3e4fae", "fontSize": 16.5, "align": "right", "baseline": "middle"},
          "encoding": {
            "x": {"datum": 37.2, "type": "quantitative", "scale": {"type": "log"}, "axis": null},
            "y": {"datum": 0.000209, "type": "quantitative", "scale": {"type": "log"}, "axis": null},
            "text": {"field": "label"}
          }
        },
        {
          "data": {"values": [{"label": "Shielded"}]},
          "mark": {"type": "text", "color": "#3e4fae", "fontSize": 16.5, "align": "left", "baseline": "middle"},
          "encoding": {
            "x": {"datum": 0.00219, "type": "quantitative", "scale": {"type": "log"}, "axis": null},
            "y": {"datum": 0.000209, "type": "quantitative", "scale": {"type": "log"}, "axis": null},
            "text": {"field": "label"}
          }
        }
      ]
    },
    {
      "width": 248, "height": 174,
      "layer": [
        {
          "data": {"name": "monthly"},
          "mark": {"type": "bar", "filled": false, "color": "#3f8c42", "strokeWidth": 5, "width": 14, "clip": true},
          "encoding": {
            "x": {"field": "month", "type": "quantitative", "scale": {"domain": [0.5, 12.5], "nice": false, "zero": false},
              "axis": {"orient": "bottom", "values": [1, 2, 3, 4, 5, 6, 7, 8, 9, 10, 11, 12], "format": "d", "title": "Month", "labelFontSize": 16, "tickSize": 3, "labelPadding": -2, "titlePadding": 0}},
            "y": {"field": "low", "type": "quantitative", "scale": {"type": "log", "domain": [0.049, 48], "nice": false},
              "axis": {"orient": "left", "ticks": false, "labelFontSize": 16, "values": [0.1, 1, 10], "labelExpr": "'10' + replace(replace(replace(replace(replace(replace('' + round(log(datum.value)/LN10), '-', '⁻'), '0', '⁰'), '1', '¹'), '2', '²'), '3', '³'), '4', '⁴')", "title": "Model simulated BaP (ng m⁻³)", "titleFontSize": 18, "titlePadding": 1}},
            "y2": {"field": "high"}
          }
        },
        {
          "data": {"name": "monthly"},
          "mark": {"type": "bar", "filled": false, "color": "#3f8c42", "strokeWidth": 4, "width": 14, "clip": true},
          "encoding": {
            "x": {"field": "month", "type": "quantitative",
              "axis": {"orient": "top", "values": [1, 2, 3, 4, 5, 6, 7, 8, 9, 10, 11, 12], "labels": false, "title": "Asia", "titleFontSize": 17, "titleX": 20, "titleY": -8, "titleAlign": "left", "titleAnchor": "start", "titleBaseline": "alphabetic"}},
            "y": {"field": "median", "type": "quantitative", "scale": {"type": "log"},
              "axis": {"orient": "right", "values": [0.1, 1, 10], "labels": false, "title": null}},
            "y2": {"field": "median"}
          }
        },
        {
          "data": {"name": "monthly"},
          "mark": {"type": "line", "color": "#4556ad", "strokeWidth": 4},
          "encoding": {
            "x": {"field": "month", "type": "quantitative",
              "axis": {"orient": "top", "ticks": false, "labels": false, "title": "C", "titleFontSize": 34, "titleX": -5, "titleY": -9, "titleAlign": "left", "titleBaseline": "alphabetic"}},
            "y": {"field": "shielded", "type": "quantitative", "scale": {"type": "log"}, "axis": null}
          }
        },
        {
          "data": {"name": "monthly"},
          "mark": {"type": "line", "color": "#d8232a", "strokeWidth": 4},
          "encoding": {
            "x": {"field": "month", "type": "quantitative", "axis": null},
            "y": {"field": "unshielded", "type": "quantitative", "scale": {"type": "log"}, "axis": null}
          }
        },
        {
          "data": {"values": [{"label": "Measured"}]},
          "mark": {"type": "text", "color": "#3f8c42", "fontSize": 17, "align": "center", "baseline": "middle"},
          "encoding": {
            "x": {"datum": 9.69, "type": "quantitative", "axis": null},
            "y": {"datum": 25.7, "type": "quantitative", "scale": {"type": "log"}, "axis": null},
            "text": {"field": "label"}
          }
        },
        {
          "data": {"values": [{"label": "Shielded"}]},
          "mark": {"type": "text", "color": "#4556ad", "fontSize": 17, "align": "center", "baseline": "middle"},
          "encoding": {
            "x": {"datum": 6.73, "type": "quantitative", "axis": null},
            "y": {"datum": 3.8, "type": "quantitative", "scale": {"type": "log"}, "axis": null},
            "text": {"field": "label"}
          }
        },
        {
          "data": {"values": [{"label": "Unshielded"}]},
          "mark": {"type": "text", "color": "#d8232a", "fontSize": 17, "align": "center", "baseline": "middle"},
          "encoding": {
            "x": {"datum": 3.14, "type": "quantitative", "axis": null},
            "y": {"datum": 0.126, "type": "quantitative", "scale": {"type": "log"}, "axis": null},
            "text": {"field": "label"}
          }
        }
      ]
    },
    {
      "width": 248, "height": 174,
      "layer": [
        {
          "data": {"name": "bachelor"},
          "mark": {"type": "bar", "filled": false, "strokeWidth": 3.5},
          "encoding": {
            "x": {"field": "series", "type": "nominal", "sort": ["Measured", "Unshielded", "Shielded"], "scale": {"paddingInner": 0.2, "paddingOuter": 0.1},
              "axis": {"orient": "bottom", "ticks": false, "labels": false, "title": null}},
            "y": {"field": "low", "type": "quantitative", "scale": {"type": "log", "domain": [0.00051, 0.0285], "nice": false},
              "axis": {"orient": "left", "values": [0.02, 0.01, 0.008, 0.006, 0.005, 0.004, 0.003, 0.002, 0.001, 0.0008, 0.0006], "tickSize": 3, "labelPadding": 0, "labelExpr": "abs(log(datum.value)/LN10 - round(log(datum.value)/LN10)) < 0.001 ? '10' + replace(replace(replace(replace(replace(replace('' + round(log(datum.value)/LN10), '-', '⁻'), '0', '⁰'), '1', '¹'), '2', '²'), '3', '³'), '4', '⁴') : ''", "title": "BaP (ng m⁻³)", "titlePadding": 3}},
            "y2": {"field": "high"},
            "color": {"field": "series", "type": "nominal", "legend": null}
          }
        },
        {
          "data": {"name": "bachelor"},
          "mark": {"type": "bar", "filled": false, "strokeWidth": 3.5},
          "encoding": {
            "x": {"field": "series", "type": "nominal", "sort": ["Measured", "Unshielded", "Shielded"],
              "axis": {"orient": "top", "ticks": false, "labels": false, "title": "D", "titleFontSize": 34, "titleX": -4, "titleY": -11, "titleAlign": "left", "titleBaseline": "alphabetic"}},
            "y": {"field": "median", "type": "quantitative", "scale": {"type": "log"},
              "axis": {"orient": "right", "values": [0.02, 0.01, 0.008, 0.006, 0.005, 0.004, 0.003, 0.002, 0.001, 0.0008, 0.0006], "tickSize": 4, "labels": false, "title": null}},
            "y2": {"field": "median"},
            "color": {"field": "series", "type": "nominal", "legend": null}
          }
        },
        {
          "data": {"name": "bachelor"},
          "mark": {"type": "text", "fontSize": 17, "align": "center", "baseline": "top", "dy": 6},
          "encoding": {
            "x": {"field": "series", "type": "nominal", "sort": ["Measured", "Unshielded", "Shielded"],
              "axis": {"orient": "top", "ticks": false, "labels": false, "title": "Mt Bachelor site, springtime", "titleFontSize": 17, "titleX": 24, "titleY": -9, "titleAlign": "left", "titleAnchor": "start", "titleBaseline": "alphabetic"}},
            "y": {"field": "low", "type": "quantitative", "scale": {"type": "log"}, "axis": null},
            "text": {"field": "series"},
            "color": {"field": "series", "type": "nominal", "legend": null}
          }
        }
      ]
    }
  ],
  "columns": 2,
  "bounds": "flush",
  "spacing": {"row": 65, "column": 48}
}
